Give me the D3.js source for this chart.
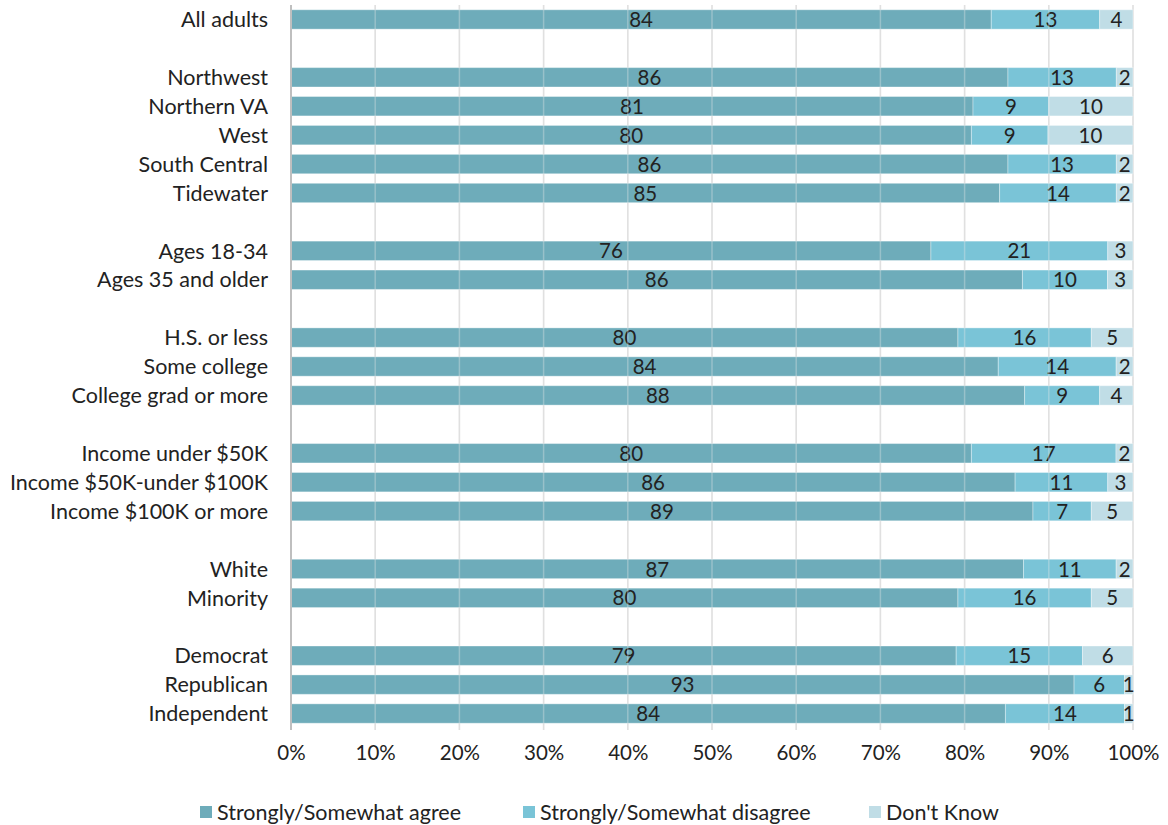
<!DOCTYPE html>
<html><head><meta charset="utf-8">
<script src="https://cdn.jsdelivr.net/npm/d3@7"></script>
<style>body{margin:0;background:#fff;} text{font-family:Lato,"Open Sans",sans-serif;}</style>
</head><body><svg id="c" width="1168" height="825"></svg>
<script>
const categories = ["All adults","|g1","Northwest","Northern VA","West","South Central","Tidewater","|g2",
 "Ages 18-34","Ages 35 and older","|g3","H.S. or less","Some college","College grad or more","|g4",
 "Income under $50K","Income $50K-under $100K","Income $100K or more","|g5","White","Minority","|g6",
 "Democrat","Republican","Independent"];
const agree    = [84,null,86,81,80,86,85,null,76,86,null,80,84,88,null,80,86,89,null,87,80,null,79,93,84];
const disagree = [13,null,13,9,9,13,14,null,21,10,null,16,14,9,null,17,11,7,null,11,16,null,15,6,14];
const dontKnow = [4,null,2,10,10,2,2,null,3,3,null,5,2,4,null,2,3,5,null,2,5,null,6,1,1];
const seriesNames = ["Strongly/Somewhat agree","Strongly/Somewhat disagree","Don't Know"];
const tickValues = [0,0.1,0.2,0.3,0.4,0.5,0.6,0.7,0.8,0.9,1];
const colors = ["#6eacba","#7ac4d7","#c0dde6"];

const svg = d3.select("#c");
const x = d3.scaleLinear().domain([0,1]).range([291,1133]);
const y = d3.scaleBand().domain(categories).range([5,728]).paddingInner(0.33).paddingOuter(0.165);

const rows = categories.map((c,i)=>({cat:c,a:agree[i],d:disagree[i],k:dontKnow[i]})).filter(r=>r.a!=null);
const keys = ["a","d","k"];
const stack = d3.stack().keys(keys).offset(d3.stackOffsetExpand);
const series = stack(rows);

svg.append("g").selectAll("line").data(tickValues.slice(1)).join("line")
  .attr("x1",d=>x(d)).attr("x2",d=>x(d)).attr("y1",5).attr("y2",730)
  .attr("stroke","#dcdcdc").attr("stroke-width",1.5);

const g = svg.append("g");
series.forEach((s,si)=>{
  g.append("g").selectAll("rect").data(s).join("rect")
    .attr("x",d=>x(d[0])).attr("width",d=>x(d[1])-x(d[0]))
    .attr("y",d=>y(d.data.cat)).attr("height",y.bandwidth())
    .attr("fill",colors[si]).attr("stroke","#ffffff").attr("stroke-opacity",0.35).attr("stroke-width",1);
});
svg.append("g").selectAll("line").data(tickValues.slice(1,-1)).join("line")
  .attr("x1",d=>x(d)).attr("x2",d=>x(d)).attr("y1",5).attr("y2",730)
  .attr("stroke","#e8e8e8").attr("stroke-opacity",0.35).attr("stroke-width",1.5);

series.forEach((s,si)=>{
  g.append("g").selectAll("text").data(s).join("text")
    .attr("x",d=>(x(d[0])+x(d[1]))/2).attr("y",d=>y(d.data.cat)+y.bandwidth()/2)
    .attr("dy","0.37em").attr("text-anchor","middle").attr("font-size",20.5).attr("fill","#222")
    .text(d=>d.data[keys[si]]);
});

svg.append("line").attr("x1",291).attr("x2",291).attr("y1",5).attr("y2",730)
  .attr("stroke","#bfbfbf").attr("stroke-width",2);

svg.append("g").selectAll("text").data(rows).join("text")
  .attr("x",268).attr("y",d=>y(d.cat)+y.bandwidth()/2).attr("dy","0.36em")
  .attr("text-anchor","end").attr("font-size",21.5).attr("fill","#222").text(d=>d.cat);

const xa = svg.append("g").attr("transform","translate(0,748)")
  .call(d3.axisBottom(x).tickValues(tickValues).tickFormat(d3.format(".0%")).tickSize(0).tickPadding(0));
xa.select(".domain").remove();
xa.selectAll("text").attr("font-size",20.5).attr("fill","#222").attr("font-family","Lato,sans-serif").attr("dy","0.6em");

const legX = [200,523,869];
const lg = svg.append("g").selectAll("g").data(seriesNames).join("g")
  .attr("transform",(d,i)=>`translate(${legX[i]},812)`);
lg.append("rect").attr("x",0).attr("y",-6).attr("width",12).attr("height",12).attr("fill",(d,i)=>colors[i]);
lg.append("text").attr("x",17).attr("y",0).attr("dy","0.36em").attr("font-size",21.5).attr("fill","#222").text(d=>d);
</script></body></html>
